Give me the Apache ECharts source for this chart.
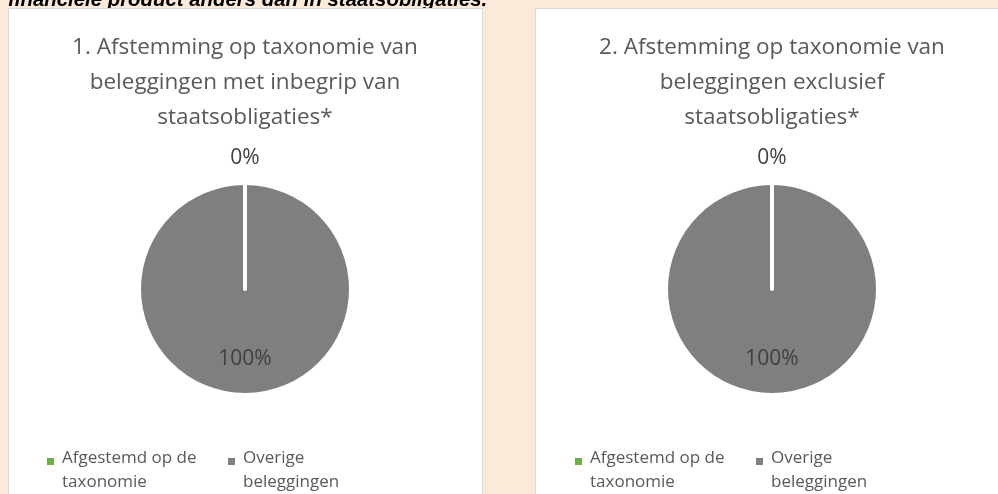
<!DOCTYPE html>
<html>
<head>
<meta charset="utf-8">
<script src="https://cdn.jsdelivr.net/npm/echarts@6/dist/echarts.min.js"></script>
<style>
  html, body { margin: 0; padding: 0; background: #fbe9da; }
  #main { width: 998px; height: 494px; }
</style>
</head>
<body>
<div id="main"></div>
<script>
// data
var categories = ['Afgestemd op de taxonomie', 'Overige beleggingen'];
var legendLabels = ['Afgestemd op de\ntaxonomie', 'Overige\nbeleggingen'];
var colors = ['#70ad47', '#7f7f7f'];
var pie1Values = [0, 100];   // met staatsobligaties
var pie2Values = [0, 100];   // exclusief staatsobligaties
var titles = [
    '1. Afstemming op taxonomie van\nbeleggingen met inbegrip van\nstaatsobligaties*',
    '2. Afstemming op taxonomie van\nbeleggingen exclusief\nstaatsobligaties*'
];
var topText = 'financiële product anders dan in staatsobligaties.';

var font = '"Open Sans", sans-serif';
var myChart = echarts.init(document.getElementById('main'));

// grootste segment eerst tekenen, zodat de witte lijn van 0% erboven ligt
function pieData(values) {
    var arr = [];
    for (var i = values.length - 1; i >= 0; i--) {
        arr.push({
            name: categories[i],
            value: values[i],
            itemStyle: {
                color: colors[i],
                borderColor: '#fff',
                borderWidth: values[i] === 0 ? 4 : 0
            },
            label: values[i] === 0 ? { position: 'outside' } : { position: 'inside' }
        });
    }
    return arr;
}

function pieSeries(values, cx) {
    return {
        type: 'pie',
        center: [cx, 289],
        radius: 104,
        startAngle: 90,
        avoidLabelOverlap: false,
        silent: true,
        emphasis: { disabled: true },
        label: {
            show: true,
            formatter: '{d}%',
            fontFamily: font,
            fontSize: 21,
            color: '#404040',
            distanceToLabelLine: 0
        },
        labelLine: { show: false, length: 27, length2: 0 },
        labelLayout: function (p) {
            if (p.dataIndex === 1) return { align: 'center' };
            return { dy: 15 };
        },
        data: pieData(values)
    };
}

// vierkantje bovenaan een hoger vak, zodat het bij de eerste tekstregel staat
var legendIcon = 'path://M0,0h7v7h-7zM0,24h0.001v0.001h-0.001z';

function legendItem(i, left) {
    return {
        data: [categories[i]],
        left: left,
        top: 446,
        padding: 0,
        orient: 'horizontal',
        icon: legendIcon,
        itemWidth: 7,
        itemHeight: 24,
        selectedMode: false,
        itemStyle: { borderWidth: 0 },
        formatter: function () { return legendLabels[i]; },
        textStyle: {
            fontFamily: font,
            fontSize: 17,
            lineHeight: 24,
            color: '#595959',
            padding: [0, 0, 0, 3]
        }
    };
}

function titleItem(i, cx) {
    return {
        text: titles[i], left: cx, top: 30, padding: 0, textAlign: 'center',
        textStyle: { fontFamily: font, fontSize: 22.5, fontWeight: 'normal', lineHeight: 35, color: '#595959' }
    };
}

var option = {
    animation: false,
    color: colors,
    title: [
        titleItem(0, 245),
        titleItem(1, 772)
    ],
    legend: [
        legendItem(0, 47),
        legendItem(1, 228),
        legendItem(0, 575),
        legendItem(1, 756)
    ],
    graphic: [
        {
            type: 'text', z: -2, left: 8, top: -10,
            style: {
                text: topText,
                font: 'italic bold 20.4px "Liberation Sans", sans-serif',
                fill: '#000'
            }
        },
        {
            type: 'rect', z: -1,
            shape: { x: 8.5, y: 8.5, width: 474, height: 500 },
            style: { fill: '#fff', stroke: '#d9d9d9', lineWidth: 1 }
        },
        {
            type: 'rect', z: -1,
            shape: { x: 535.5, y: 8.5, width: 470, height: 500 },
            style: { fill: '#fff', stroke: '#d9d9d9', lineWidth: 1 }
        }
    ],
    series: [
        pieSeries(pie1Values, 245),
        pieSeries(pie2Values, 772)
    ]
};
myChart.setOption(option);
</script>
</body>
</html>
